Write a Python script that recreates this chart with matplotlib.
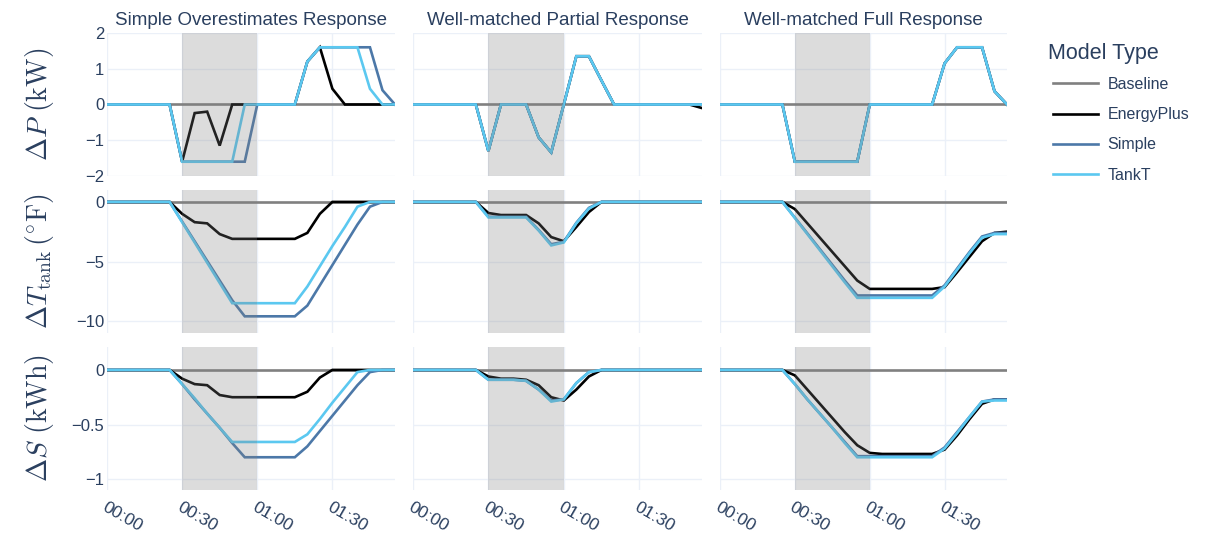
import matplotlib
matplotlib.use('Agg')

import matplotlib.pyplot as plt
from matplotlib.lines import Line2D

# ---------------- data (5-minute steps, 0 .. 115 min) ----------------
minutes = [0, 5, 10, 15, 20, 25, 30, 35, 40, 45, 50, 55,
           60, 65, 70, 75, 80, 85, 90, 95, 100, 105, 110, 115]

baseline = [0, 0, 0, 0, 0, 0, 0, 0, 0, 0, 0, 0,
            0, 0, 0, 0, 0, 0, 0, 0, 0, 0, 0, 0]

# Simple Overestimates Response
over_p_eplus = [0, 0, 0, 0, 0, 0, -1.6, -0.24, -0.2, -1.15, 0, 0,
                0, 0, 0, 0, 1.2, 1.6, 0.44, 0, 0, 0, 0, 0]
over_p_simple = [0, 0, 0, 0, 0, 0, -1.6, -1.6, -1.6, -1.6, -1.6, -1.6,
                 0, 0, 0, 0, 1.2, 1.6, 1.6, 1.6, 1.6, 1.6, 0.4, 0]
over_p_tankt = [0, 0, 0, 0, 0, 0, -1.6, -1.6, -1.6, -1.6, -1.6, 0,
                0, 0, 0, 0, 1.2, 1.6, 1.6, 1.6, 1.6, 0.44, 0, 0]

over_t_eplus = [0, 0, 0, 0, 0, 0, -1.0, -1.7, -1.8, -2.7, -3.1, -3.1,
                -3.1, -3.1, -3.1, -3.1, -2.6, -1.0, 0, 0, 0, 0, 0, 0]
over_t_simple = [0, 0, 0, 0, 0, 0, -1.65, -3.3, -4.95, -6.6, -8.25, -9.6,
                 -9.6, -9.6, -9.6, -9.6, -8.7, -7.0, -5.3, -3.6, -1.9, -0.4, 0, 0]
over_t_tankt = [0, 0, 0, 0, 0, 0, -1.7, -3.4, -5.1, -6.8, -8.5, -8.5,
                -8.5, -8.5, -8.5, -8.5, -7.1, -5.4, -3.7, -2.1, -0.4, 0, 0, 0]

over_s_eplus = [0, 0, 0, 0, 0, 0, -0.08, -0.13, -0.14, -0.23, -0.25, -0.25,
                -0.25, -0.25, -0.25, -0.25, -0.2, -0.07, 0, 0, 0, 0, 0, 0]
over_s_simple = [0, 0, 0, 0, 0, 0, -0.13, -0.27, -0.4, -0.53, -0.67, -0.8,
                 -0.8, -0.8, -0.8, -0.8, -0.7, -0.56, -0.42, -0.28, -0.14, -0.02, 0, 0]
over_s_tankt = [0, 0, 0, 0, 0, 0, -0.13, -0.26, -0.4, -0.53, -0.66, -0.66,
                -0.66, -0.66, -0.66, -0.66, -0.59, -0.45, -0.3, -0.16, -0.02, 0, 0, 0]

# Well-matched Partial Response
part_p_eplus = [0, 0, 0, 0, 0, 0, -1.3, 0, 0, 0, -0.92, -1.34,
                0, 1.35, 1.35, 0.67, 0, 0, 0, 0, 0, 0, 0, -0.1]
part_p_simple = [0, 0, 0, 0, 0, 0, -1.3, 0, 0, 0, -0.92, -1.34,
                 0, 1.35, 1.35, 0.67, 0, 0, 0, 0, 0, 0, 0, 0]
part_p_tankt = [0, 0, 0, 0, 0, 0, -1.3, 0, 0, 0, -0.92, -1.34,
                0, 1.35, 1.35, 0.67, 0, 0, 0, 0, 0, 0, 0, 0]

part_t_eplus = [0, 0, 0, 0, 0, 0, -0.93, -1.1, -1.1, -1.1, -1.8, -2.95,
                -3.3, -2.1, -0.85, 0, 0, 0, 0, 0, 0, 0, 0, 0]
part_t_simple = [0, 0, 0, 0, 0, 0, -1.25, -1.25, -1.25, -1.25, -2.35, -3.55,
                 -3.35, -1.75, -0.5, 0, 0, 0, 0, 0, 0, 0, 0, 0]
part_t_tankt = [0, 0, 0, 0, 0, 0, -1.3, -1.3, -1.3, -1.3, -2.4, -3.65,
                -3.4, -1.8, -0.56, 0, 0, 0, 0, 0, 0, 0, 0, 0]

part_s_eplus = [0, 0, 0, 0, 0, 0, -0.06, -0.08, -0.08, -0.09, -0.14, -0.25,
                -0.28, -0.18, -0.06, 0, 0, 0, 0, 0, 0, 0, 0, 0]
part_s_simple = [0, 0, 0, 0, 0, 0, -0.09, -0.09, -0.09, -0.1, -0.18, -0.28,
                 -0.27, -0.12, -0.02, 0, 0, 0, 0, 0, 0, 0, 0, 0]
part_s_tankt = [0, 0, 0, 0, 0, 0, -0.09, -0.09, -0.09, -0.1, -0.18, -0.29,
                -0.27, -0.12, -0.02, 0, 0, 0, 0, 0, 0, 0, 0, 0]

# Well-matched Full Response
full_p_eplus = [0, 0, 0, 0, 0, 0, -1.6, -1.6, -1.6, -1.6, -1.6, -1.6,
                0, 0, 0, 0, 0, 0, 1.15, 1.6, 1.6, 1.6, 0.37, 0]
full_p_simple = [0, 0, 0, 0, 0, 0, -1.6, -1.6, -1.6, -1.6, -1.6, -1.6,
                 0, 0, 0, 0, 0, 0, 1.15, 1.6, 1.6, 1.6, 0.37, 0]
full_p_tankt = [0, 0, 0, 0, 0, 0, -1.6, -1.6, -1.6, -1.6, -1.6, -1.6,
                0, 0, 0, 0, 0, 0, 1.15, 1.6, 1.6, 1.6, 0.37, 0]

full_t_eplus = [0, 0, 0, 0, 0, 0, -0.6, -1.8, -3.0, -4.2, -5.4, -6.6,
                -7.3, -7.3, -7.3, -7.3, -7.3, -7.3, -7.15, -5.9, -4.6, -3.3, -2.6, -2.5]
full_t_simple = [0, 0, 0, 0, 0, 0, -1.32, -2.64, -3.96, -5.28, -6.6, -7.85,
                 -7.85, -7.85, -7.85, -7.85, -7.85, -7.85, -7.0, -5.6, -4.2, -2.9, -2.6, -2.6]
full_t_tankt = [0, 0, 0, 0, 0, 0, -1.35, -2.7, -4.05, -5.4, -6.75, -8.05,
                -8.05, -8.05, -8.05, -8.05, -8.05, -8.05, -7.1, -5.7, -4.3, -3.0, -2.7, -2.7]

full_s_eplus = [0, 0, 0, 0, 0, 0, -0.05, -0.18, -0.31, -0.44, -0.57, -0.69,
                -0.76, -0.77, -0.77, -0.77, -0.77, -0.77, -0.73, -0.6, -0.45, -0.31, -0.27, -0.27]
full_s_simple = [0, 0, 0, 0, 0, 0, -0.13, -0.27, -0.4, -0.53, -0.66, -0.79,
                 -0.79, -0.79, -0.79, -0.79, -0.79, -0.79, -0.71, -0.57, -0.43, -0.29, -0.27, -0.27]
full_s_tankt = [0, 0, 0, 0, 0, 0, -0.13, -0.27, -0.4, -0.53, -0.67, -0.8,
                -0.8, -0.8, -0.8, -0.8, -0.8, -0.8, -0.72, -0.58, -0.43, -0.29, -0.28, -0.28]

col_titles = ['Simple Overestimates Response',
              'Well-matched Partial Response',
              'Well-matched Full Response']
model_names = ['Baseline', 'EnergyPlus', 'Simple', 'TankT']
row_labels = [r'$\Delta P\ (\mathrm{kW})$',
              r'$\Delta T_{\mathrm{tank}}\,(^{\circ}\mathrm{F})$',
              r'$\Delta S\ (\mathrm{kWh})$']
x_ticks = [0, 30, 60, 90]
x_ticklabels = ['00:00', '00:30', '01:00', '01:30']
y_ticks = [[-2, -1, 0, 1, 2], [-10, -5, 0], [-1, -0.5, 0]]
y_ticklabels = [['\u22122', '\u22121', '0', '1', '2'],
                ['\u221210', '\u22125', '0'],
                ['\u22121', '\u22120.5', '0']]
y_limits = [(-2, 2), (-11, 1), (-1.1, 0.21)]
event_window = (30, 60)

panels = [
    [(over_p_eplus, over_p_simple, over_p_tankt),
     (part_p_eplus, part_p_simple, part_p_tankt),
     (full_p_eplus, full_p_simple, full_p_tankt)],
    [(over_t_eplus, over_t_simple, over_t_tankt),
     (part_t_eplus, part_t_simple, part_t_tankt),
     (full_t_eplus, full_t_simple, full_t_tankt)],
    [(over_s_eplus, over_s_simple, over_s_tankt),
     (part_s_eplus, part_s_simple, part_s_tankt),
     (full_s_eplus, full_s_simple, full_s_tankt)],
]

# ---------------- style ----------------
plt.rcParams['font.family'] = ['Liberation Sans', 'DejaVu Sans']
plt.rcParams['mathtext.fontset'] = 'cm'
text_col = '#2a3f5f'
grid_col = '#EBF0F8'
colors = ['#808080', '#000000', '#4C78A8', '#5BC8F0']

W, H = 1211, 538
fig = plt.figure(figsize=(W / 100, H / 100), dpi=100)

col_left = [107, 413, 720]
col_width = [288, 289, 287]
row_top = [33, 190, 347]
row_height = 143

for r in range(3):
    for c in range(3):
        ax = fig.add_axes([col_left[c] / W, 1 - (row_top[r] + row_height) / H,
                           col_width[c] / W, row_height / H])
        eplus, simple, tankt = panels[r][c]
        for series, color in zip([baseline, eplus, simple, tankt], colors):
            ax.plot(minutes, series, color=color, lw=1.9, zorder=3,
                    solid_joinstyle='miter')
        # demand-response event window drawn over the traces
        ax.axvspan(*event_window, color='#808080', alpha=0.27, lw=0, zorder=5)

        ax.set_xlim(0, 115)
        ax.set_ylim(*y_limits[r])
        ax.set_xticks(x_ticks)
        ax.set_yticks(y_ticks[r])
        ax.grid(True, color=grid_col, lw=1, zorder=0)
        ax.set_axisbelow(True)
        for s in ax.spines.values():
            s.set_visible(False)
        ax.tick_params(length=0, colors=text_col, labelsize=12, pad=2)

        if c == 0:
            ax.set_yticklabels(y_ticklabels[r])
        else:
            ax.set_yticklabels([])
        if r == 2:
            ax.set_xticklabels(x_ticklabels, rotation=-30, ha='left', va='top',
                               rotation_mode='anchor', fontsize=12.5)
            ax.tick_params(axis='x', pad=7)
        else:
            ax.set_xticklabels([])
        if r == 0:
            ax.set_title(col_titles[c], color=text_col, fontsize=13.5, pad=6)

for r in range(3):
    yc = 1 - (row_top[r] + row_height / 2) / H
    fig.text(40 / W, yc, row_labels[r], rotation=90, ha='center', va='center',
             color=text_col, fontsize=20)

# legend: title placed separately so the entries sit a little indented
fig.text(1048 / W, 1 - 53 / H, 'Model Type', ha='left', va='center',
         color=text_col, fontsize=15.5)
handles = [Line2D([], [], color=col, lw=1.9) for col in colors]
leg = fig.legend(handles, model_names, loc='upper left',
                 bbox_to_anchor=(1053 / W, 1 - 77 / H), frameon=False,
                 fontsize=11.5, borderpad=0, borderaxespad=0,
                 handlelength=2.8, handletextpad=0.6, labelspacing=0.95)
for t in leg.get_texts():
    t.set_color(text_col)

fig.savefig('out.png', dpi=100)
